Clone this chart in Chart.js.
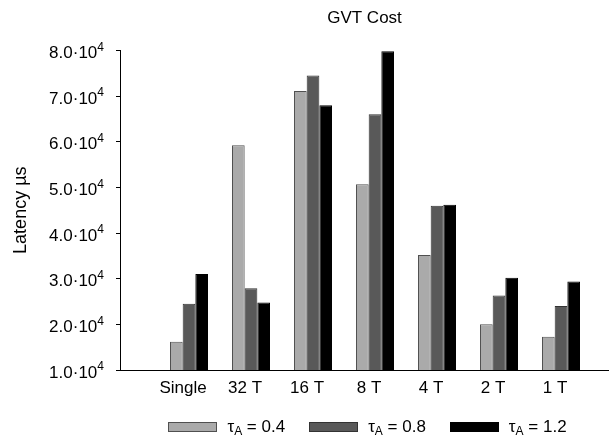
<!DOCTYPE html>
<html>
<head>
<meta charset="utf-8">
<script src="https://cdn.jsdelivr.net/npm/chart.js@4"></script>
<style>
  html, body { margin: 0; padding: 0; background: #fff; }
  #wrap { width: 609px; height: 442px; }
</style>
</head>
<body>
<div id="wrap"><canvas id="gvtChart" width="609" height="442"></canvas></div>
<script>
// GVT cost chart data
const categories = ["Single", "32 T", "16 T", "8 T", "4 T", "2 T", "1 T"];
const tauValues = ["0.4", "0.8", "1.2"];
const tau04 = [16200, 59200, 71100, 50700, 35200, 20000, 17300];
const tau08 = [24500, 27900, 74500, 66000, 46000, 26300, 24000];
const tau12 = [31000, 24800, 68000, 79800, 46200, 30200, 29400];
const yTicks = [10000, 20000, 30000, 40000, 50000, 60000, 70000, 80000];

const FONT = "'Liberation Sans', Arial, sans-serif";
const SIZE = 17;

function toPoints(values) {
    return values.map((v, i) => ({ x: i, y: v }));
}

// y tick labels like 8.0·10^4 with a proper superscript
const yLabels = {
    id: 'yLabels',
    afterDraw(chart) {
        const scale = chart.scales.y;
        const ctx = chart.ctx;
        const right = scale.right - 16;
        ctx.save();
        ctx.fillStyle = '#000';
        ctx.textBaseline = 'middle';
        scale.ticks.forEach(t => {
            const y = scale.getPixelForValue(t.value);
            ctx.font = '12px ' + FONT;
            const supW = ctx.measureText('4').width;
            ctx.textAlign = 'right';
            ctx.fillText('4', right, y - 3);
            ctx.font = SIZE + 'px ' + FONT;
            ctx.fillText((t.value / 10000).toFixed(1) + '·10', right - supW, y + 3);
        });
        ctx.restore();
    }
};

// legend under the plot, tau with subscript A
const legendBox = {
    id: 'legendBox',
    afterDraw(chart) {
        const ctx = chart.ctx;
        const area = chart.chartArea;
        const boxW = 49, boxH = 10, gap = 10, spacing = 24;
        const y = 427;
        ctx.save();
        ctx.textBaseline = 'middle';
        ctx.textAlign = 'left';
        const widths = tauValues.map(v => {
            ctx.font = SIZE + 'px ' + FONT;
            let w = ctx.measureText('τ').width + ctx.measureText(' = ' + v).width;
            ctx.font = '12px ' + FONT;
            return w + ctx.measureText('A').width;
        });
        let total = widths.reduce((s, w) => s + boxW + gap + w, 0) + spacing * (widths.length - 1);
        let x = (area.left + area.right) / 2 + 3 - total / 2;
        chart.data.datasets.forEach((ds, i) => {
            ctx.fillStyle = ds.backgroundColor;
            ctx.fillRect(Math.round(x), y - boxH / 2, boxW, boxH);
            ctx.strokeStyle = ds.borderColor;
            ctx.lineWidth = 1;
            ctx.strokeRect(Math.round(x) + 0.5, y - boxH / 2 + 0.5, boxW - 1, boxH - 1);
            let tx = x + boxW + gap;
            ctx.fillStyle = '#000';
            ctx.font = SIZE + 'px ' + FONT;
            ctx.fillText('τ', tx, y);
            tx += ctx.measureText('τ').width;
            ctx.font = '12px ' + FONT;
            ctx.fillText('A', tx, y + 5);
            tx += ctx.measureText('A').width;
            ctx.font = SIZE + 'px ' + FONT;
            ctx.fillText(' = ' + tauValues[i], tx, y);
            x += boxW + gap + widths[i] + spacing;
        });
        ctx.restore();
    }
};

const datasets = [
    { label: 'τA = ' + tauValues[0], data: toPoints(tau04), backgroundColor: '#aaaaaa', borderColor: '#505050' },
    { label: 'τA = ' + tauValues[1], data: toPoints(tau08), backgroundColor: '#595959', borderColor: '#333333' },
    { label: 'τA = ' + tauValues[2], data: toPoints(tau12), backgroundColor: '#000000', borderColor: '#000000' }
].map(d => Object.assign(d, {
    borderWidth: 1,
    categoryPercentage: 38 / 62,
    barPercentage: 1.0
}));

new Chart(document.getElementById('gvtChart'), {
    type: 'bar',
    data: { datasets: datasets },
    plugins: [yLabels, legendBox],
    options: {
        responsive: false,
        animation: false,
        layout: { padding: { left: 0, right: 0, top: 0, bottom: 42 } },
        scales: {
            x: {
                type: 'linear',
                offset: false,
                min: -1.113,
                max: 6.774,
                afterBuildTicks(scale) {
                    scale.ticks = categories.map((c, i) => ({ value: i }));
                },
                afterFit(scale) {
                    scale.height = 30;
                },
                grid: { offset: false, drawOnChartArea: false, drawTicks: false },
                border: { display: true, color: '#000', width: 1 },
                ticks: {
                    autoSkip: false,
                    maxRotation: 0,
                    padding: 8,
                    labelOffset: -6,
                    color: '#000',
                    font: { family: FONT, size: SIZE },
                    callback: (v) => categories[v]
                }
            },
            y: {
                min: 10000,
                max: 80000,
                afterBuildTicks(scale) {
                    scale.ticks = yTicks.map(v => ({ value: v }));
                },
                afterFit(scale) {
                    scale.width = 120;
                },
                grid: { drawOnChartArea: false, drawTicks: true, tickLength: 4, color: '#000' },
                border: { display: true, color: '#000', width: 1 },
                ticks: {
                    padding: 12,
                    color: 'rgba(0,0,0,0)',
                    font: { family: FONT, size: SIZE },
                    callback: (v) => (v / 10000).toFixed(1) + '·10⁴'
                },
                title: {
                    display: true,
                    text: 'Latency µs',
                    color: '#000',
                    font: { family: FONT, size: 18 },
                    padding: { top: 10, bottom: 0 }
                }
            }
        },
        plugins: {
            title: {
                display: true,
                text: 'GVT Cost',
                fullSize: false,
                color: '#000',
                font: { family: FONT, size: SIZE, weight: 'normal' },
                padding: { top: 8, bottom: 22 }
            },
            legend: { display: false },
            tooltip: { enabled: false }
        }
    }
});
</script>
</body>
</html>
